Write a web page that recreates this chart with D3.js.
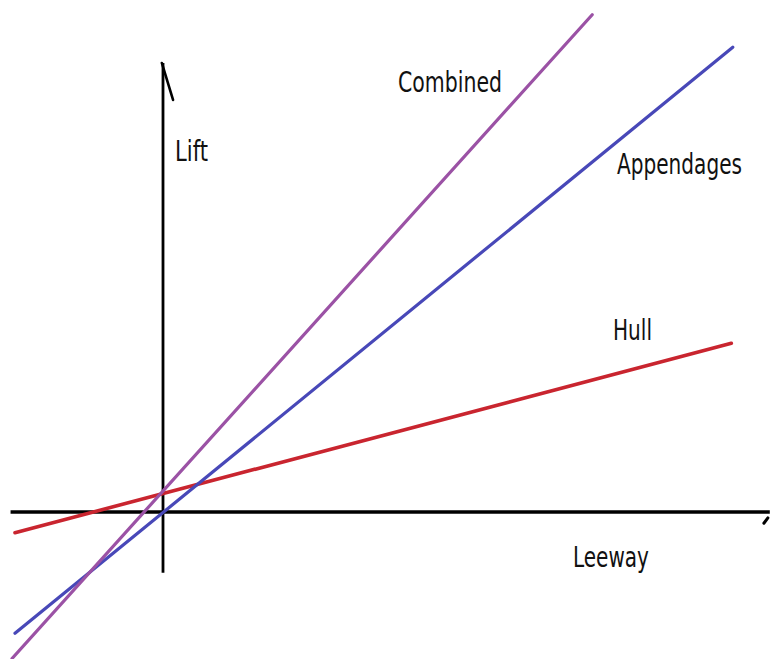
<!DOCTYPE html>
<html>
<head>
<meta charset="utf-8">
<script src="https://cdn.jsdelivr.net/npm/d3@7"></script>
<style>
  html, body { margin: 0; padding: 0; background: #fff; }
  svg { display: block; }
</style>
</head>
<body>
<svg id="chart" width="774" height="659"></svg>
<script>
// Lift against leeway for the hull, the appendages and both combined.
// Each series is a straight line given by its two end points [leeway, lift].
const seriesNames = ["Hull", "Appendages", "Combined"];
const hullPoints = [[-1.0, -0.14], [3.84, 1.14]];
const appendagePoints = [[-1.0, -0.82], [3.85, 3.14]];
const combinedPoints = [[-1.02, -0.99], [2.9, 3.36]];
const seriesColors = ["#c9252f", "#4848b8", "#9b52a5"];

// Axis extents in data units
const xAxisExtent = [-1.03, 4.1];
const yAxisExtent = [-0.41, 3.034];

const width = 774, height = 659;
const unit = 148;
const origin = { x: 163, y: 512 };

const x = d3.scaleLinear().domain([0, 1]).range([origin.x, origin.x + unit]);
const y = d3.scaleLinear().domain([0, 1]).range([origin.y, origin.y - unit]);

const svg = d3.select("#chart");
svg.append("rect").attr("width", width).attr("height", height).attr("fill", "#fff");

const line = d3.line().x(d => x(d[0])).y(d => y(d[1]));

// Axes: plain black strokes through the origin
const axes = svg.append("g").attr("stroke", "#000").attr("fill", "none").attr("stroke-linecap", "butt");
axes.append("path")
  .attr("d", line([[xAxisExtent[0], 0], [xAxisExtent[1], 0]]))
  .attr("stroke-width", 3.3);
axes.append("path")
  .attr("d", line([[0, yAxisExtent[0]], [0, yAxisExtent[1]]]))
  .attr("stroke-width", 2.8);
// Arrow flick at the top of the lift axis
axes.append("path")
  .attr("d", line([[-0.008, yAxisExtent[1]], [0.068, 2.784]]))
  .attr("stroke-width", 2.6)
  .attr("stroke-linecap", "round");
// Arrow flick at the right of the leeway axis
axes.append("path")
  .attr("d", line([[4.087, -0.04], [4.06, -0.076]]))
  .attr("stroke-width", 3)
  .attr("stroke-linecap", "round");

// Series lines
const seriesData = [hullPoints, appendagePoints, combinedPoints];
const strokeWidths = [3.6, 3.2, 3.2];
svg.append("g").selectAll("path")
  .data(seriesData)
  .join("path")
  .attr("d", d => line(d))
  .attr("fill", "none")
  .attr("stroke", (d, i) => seriesColors[i])
  .attr("stroke-width", (d, i) => strokeWidths[i])
  .attr("stroke-linecap", "round");

// Labels: narrow lettering, squeezed horizontally to its set width
const labels = [
  { text: "Lift", px: 175, py: 161, w: 33 },
  { text: "Combined", px: 398, py: 92, w: 104 },
  { text: "Appendages", px: 617, py: 173.5, w: 125 },
  { text: "Hull", px: 613, py: 340, w: 39 },
  { text: "Leeway", px: 573, py: 566.5, w: 76 }
];
const labelNodes = svg.append("g").selectAll("g")
  .data(labels)
  .join("g");
labelNodes.append("text")
  .attr("x", 0)
  .attr("y", 0)
  .attr("font-family", "DejaVu Sans")
  .attr("font-size", 28)
  .attr("fill", "#111")
  .text(d => d.text);
labelNodes.attr("transform", function(d) {
  const natural = this.querySelector("text").getComputedTextLength();
  const sx = d.w / natural;
  return `translate(${d.px},${d.py}) scale(${sx},1)`;
});
</script>
</body>
</html>
